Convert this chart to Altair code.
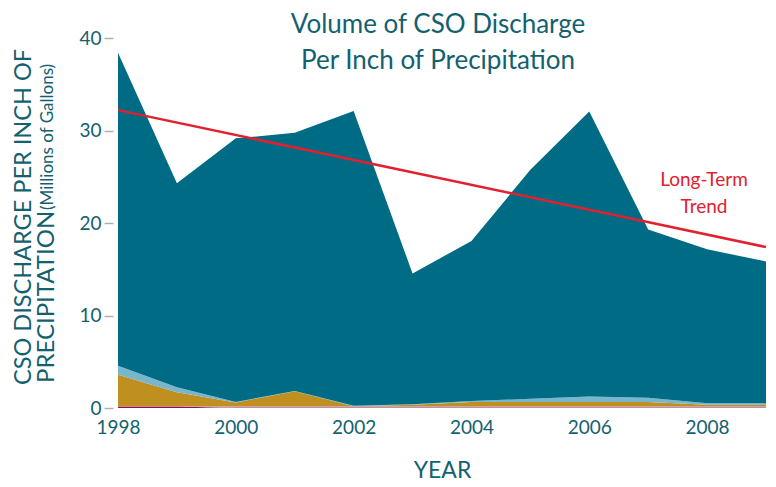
import altair as alt
import pandas as pd

years = [1998, 1999, 2000, 2001, 2002, 2003, 2004, 2005, 2006, 2007, 2008, 2009]
# stacked layer thicknesses (millions of gallons per inch), bottom to top
maroon = [0.15, 0.15, 0, 0, 0, 0, 0, 0, 0, 0, 0, 0]
pink = [0.05, 0.05, 0.15, 0.15, 0.15, 0.15, 0.15, 0.15, 0.15, 0.15, 0.15, 0.15]
gold = [3.4, 1.5, 0.45, 1.67, 0.05, 0.2, 0.5, 0.5, 0.5, 0.5, 0.2, 0.2]
lightblue = [0.97, 0.55, 0.05, 0.03, 0.05, 0.05, 0.1, 0.35, 0.6, 0.45, 0.17, 0.15]
teal = [33.83, 22.05, 28.5, 27.9, 31.85, 14.15, 17.3, 24.75, 30.8, 18.2, 16.63, 15.35]

trend_years = [1998, 2009]
trend_values = [32.2, 17.4]

layer_names = ["maroon", "pink", "gold", "lightblue", "teal"]
layer_colors = ["#8a1450", "#c58bb8", "#bf9020", "#78b6cb", "#006b84"]
layer_values = [maroon, pink, gold, lightblue, teal]

rows = []
for i, (name, vals) in enumerate(zip(layer_names, layer_values)):
    for y, v in zip(years, vals):
        rows.append({"year": y, "value": v, "layer": name, "ord": i})
df = pd.DataFrame(rows)

trend_df = pd.DataFrame({"year": trend_years, "value": trend_values})

TEXT = "#13616f"
FONT = "Lato"

xscale = alt.Scale(domain=[1998, 2009], nice=False, zero=False)
yscale = alt.Scale(domain=[0, 40], nice=False)

areas = alt.Chart(df).mark_area(interpolate="linear").encode(
    x=alt.X("year:Q", scale=xscale,
            axis=alt.Axis(values=[1998, 2000, 2002, 2004, 2006, 2008], format="d",
                          title="YEAR", domain=False, ticks=False, grid=False,
                          labelFontSize=19, labelColor=TEXT, labelFont=FONT,
                          labelPadding=10, titleFontSize=23, titleFont=FONT,
                          titleColor=TEXT, titleFontWeight="normal", titlePadding=22,
                          labelFlush=False)),
    y=alt.Y("value:Q", stack="zero", scale=yscale,
            axis=alt.Axis(values=[0, 10, 20, 30, 40], title=None, domain=False,
                          tickSize=9, tickColor="#b0b0b0", tickWidth=1.5, offset=5,
                          grid=False, labelFontSize=19, labelColor=TEXT,
                          labelFont=FONT, labelPadding=3)),
    color=alt.Color("layer:N", scale=alt.Scale(domain=layer_names, range=layer_colors),
                    legend=None),
    order=alt.Order("ord:Q"),
)

trend = alt.Chart(trend_df).mark_line(color="#e0212f", strokeWidth=2.5).encode(
    x=alt.X("year:Q", scale=xscale),
    y=alt.Y("value:Q", scale=yscale),
)

title_df = pd.DataFrame({"t": ["Volume of CSO Discharge", "Per Inch of Precipitation"],
                         "yy": [-13, 23]})
title = alt.Chart(title_df).mark_text(fontSize=26, font=FONT, color=TEXT,
                                      align="center", baseline="middle").encode(
    x=alt.value(320), y=alt.Y("yy:Q", scale=None), text="t:N"
)

trend_lbl_df = pd.DataFrame({"t": ["Long-Term", "Trend"], "yy": [142, 169]})
trend_lbl = alt.Chart(trend_lbl_df).mark_text(fontSize=19, font=FONT, color="#e0212f",
                                              align="center", baseline="middle").encode(
    x=alt.value(586), y=alt.Y("yy:Q", scale=None), text="t:N"
)

ytitle1 = alt.Chart(pd.DataFrame({"t": ["CSO DISCHARGE PER INCH OF"]})).mark_text(
    fontSize=23.5, font=FONT, color=TEXT, angle=270, align="center", baseline="middle"
).encode(x=alt.value(-94), y=alt.value(179), text="t:N")

ytitle2a = alt.Chart(pd.DataFrame({"t": ["PRECIPITATION"]})).mark_text(
    fontSize=24, font=FONT, color=TEXT, angle=270, align="left", baseline="middle"
).encode(x=alt.value(-71), y=alt.value(345), text="t:N")

ytitle2b = alt.Chart(pd.DataFrame({"t": ["(Millions of Gallons)"]})).mark_text(
    fontSize=17, font=FONT, color=TEXT, angle=270, align="left", baseline="middle"
).encode(x=alt.value(-70), y=alt.value(172), text="t:N")

chart = alt.layer(areas, trend, title, trend_lbl, ytitle1, ytitle2a, ytitle2b).properties(
    width=648, height=370,
    padding={"left": 110, "top": 30, "right": 2, "bottom": 79},
    autosize=alt.AutoSizeParams(type="none"),
).configure_view(stroke=None)

chart.save("out.html", embed_options={"renderer": "svg", "actions": False})
